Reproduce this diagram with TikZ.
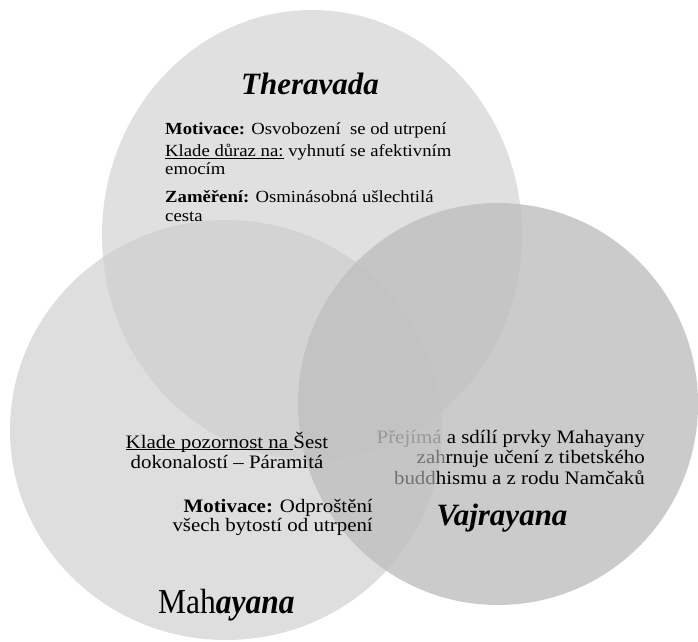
\documentclass[tikz,border=0pt]{standalone}
\usepackage{fontspec}
\setmainfont{Liberation Serif}
% Body text in the reference is set a little wide, the Mahayana title a little narrow
\newfontfamily\bodyfont[FakeStretch=1.1]{Liberation Serif}
\newfontfamily\narrowfont[FakeStretch=0.9]{Liberation Serif}

% Underline just below the baseline
\newcommand\vennunder[1]{\setbox0\hbox{#1}\rlap{\rule[-2.2pt]{\wd0}{0.8pt}}\box0\relax}

\definecolor{therafill}{gray}{0.878}
\definecolor{mahafill}{gray}{0.808}
\definecolor{vajrafill}{gray}{0.757}
\definecolor{fadedtext}{gray}{0.6}
\definecolor{shadedtext}{gray}{0.45}

\tikzset{
  venntitle/.style={inner sep=0pt, font=\fontsize{31}{31}\selectfont\bfseries\itshape},
  theraline/.style={inner sep=0pt, anchor=base west, font=\bodyfont\fontsize{17}{18}\selectfont},
  vennline/.style={inner sep=0pt, font=\bodyfont\fontsize{19}{20}\selectfont},
}

\begin{document}
\begin{tikzpicture}[x=1pt,y=1pt]

\useasboundingbox (0,0) rectangle (698,641);

% Left edge of the Theravada text
\def\tx{165}
% Right edge of the Vajrayana text
\def\vx{645}

% Circles (Theravada first, so on bottom layer)
\fill[therafill] (312,406) ellipse [x radius=210pt, y radius=225pt];
\fill[mahafill, fill opacity=0.68] (226,211) ellipse [x radius=216pt, y radius=210pt];
\fill[vajrafill, fill opacity=0.84] (498,237) ellipse [x radius=200pt, y radius=201pt];

% Theravada
\node[venntitle, anchor=base] (theratitle) at (310,546) {Theravada};
\node[theraline] (theramot) at (\tx,506.7) {\textbf{Motivace:} Osvobození\ \ se od utrpení};
\node[theraline] (therakla) at (\tx,484.3) {\vennunder{Klade důraz na:} vyhnutí se afektivním};
\node[theraline] (theraklb) at (\tx,466) {emocím};
\node[theraline] (therazama) at (\tx,438.3) {\textbf{Zaměření:} Osminásobná ušlechtilá};
\node[theraline] (therazamb) at (\tx,420) {cesta};

% Mahayana
\node[vennline, anchor=base] (mahakla) at (227,193) {\vennunder{Klade pozornost na\ }Šest};
\node[vennline, anchor=base] (mahaklb) at (227,173) {dokonalostí – Páramitá};
\node[vennline, anchor=base east] (mahamota) at (373,129) {\textbf{Motivace:} Odproštění};
\node[vennline, anchor=base east] (mahamotb) at (373,110) {všech bytostí od utrpení};
\node[inner sep=0pt, anchor=base west, font=\narrowfont\fontsize{35}{35}\selectfont] (mahatitle) at (158,28) {Mah\textbf{\textit{ayana}}};

% Vajrayana
\node[vennline, anchor=base east] (vajraa) at (\vx,197.7) {\textcolor{fadedtext}{Přejímá} a sdílí prvky Mahayany};
\node[vennline, anchor=base east] (vajrab) at (\vx,177.7) {\textcolor{shadedtext}{zah}rnuje učení z tibetského};
\node[vennline, anchor=base east] (vajrac) at (\vx,157) {\textcolor{shadedtext}{budd}hismu a z rodu Namčaků};
\node[venntitle, anchor=base] (vajratitle) at (502,116) {Vajrayana};

\end{tikzpicture}
\end{document}
